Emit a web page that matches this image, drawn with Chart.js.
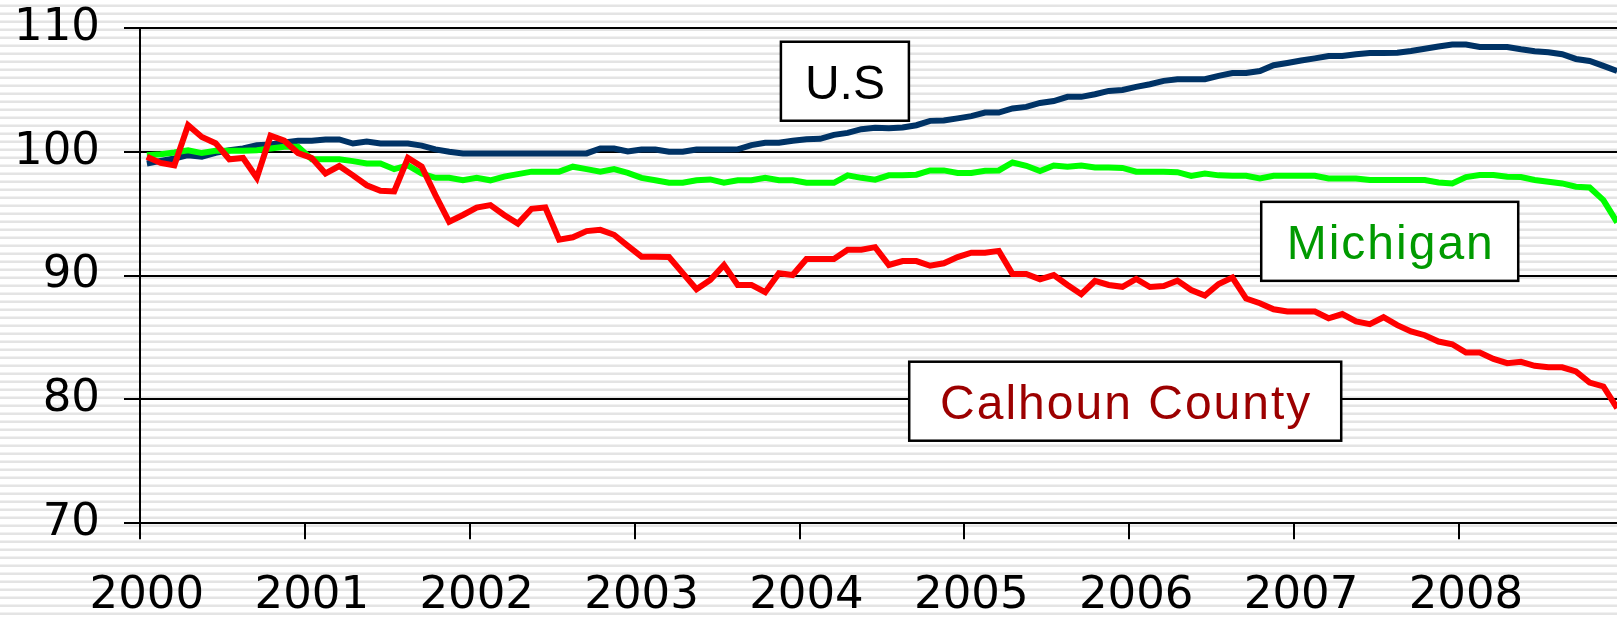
<!DOCTYPE html>
<html>
<head>
<meta charset="utf-8">
<script src="https://cdn.jsdelivr.net/npm/chart.js@4.4.1/dist/chart.umd.min.js"></script>
<style>
  html, body {
    margin: 0;
    padding: 0;
    overflow: hidden;
    width: 1617px;
    height: 618px;
    /* striped slide background */
    background: repeating-linear-gradient(to bottom,
      #ffffff 0px, #ffffff 4px,
      #f1f1f1 4px, #f1f1f1 5px,
      #e4e4e4 5px, #e4e4e4 7px,
      #ffffff 7px, #ffffff 8px);
  }
  #wrap { position: absolute; left: 0; top: 0; width: 1640px; height: 618px; }
</style>
</head>
<body>
<div id="wrap"><canvas id="indexChart" width="1640" height="618"></canvas></div>
<script>
/* ═══════════════════════════════════════════
   Employment index, Jan 2000 = 100 (monthly)
   ═══════════════════════════════════════════ */

const years = [2000, 2001, 2002, 2003, 2004, 2005, 2006, 2007, 2008];
const months = years.flatMap(y => Array.from({length: 12}, (_, m) => y + '-' + (m + 1)));

const yTicks = [70, 80, 90, 100, 110];

const usIndex = [
  99.06, 99.27, 99.46, 99.73, 99.6, 99.92, 100.13, 100.27, 100.54, 100.6, 100.75, 100.89,
  100.89, 101.0, 101.0, 100.67, 100.83, 100.67, 100.67, 100.67, 100.5, 100.2, 100.0, 99.87,
  99.87, 99.87, 99.87, 99.87, 99.87, 99.87, 99.87, 99.87, 99.87, 100.27, 100.27, 100.03,
  100.19, 100.19, 100.0, 100.0, 100.19, 100.19, 100.19, 100.2, 100.54, 100.73, 100.73, 100.9,
  101.02, 101.05, 101.37, 101.53, 101.83, 101.95, 101.9, 101.96, 102.15, 102.5, 102.53, 102.7,
  102.88, 103.17, 103.17, 103.5, 103.63, 103.95, 104.1, 104.44, 104.44, 104.65, 104.92, 105.0,
  105.24, 105.46, 105.73, 105.86, 105.86, 105.86, 106.13, 106.37, 106.37, 106.53, 106.99, 107.18,
  107.37, 107.55, 107.74, 107.74, 107.88, 107.98, 107.98, 108.0, 108.15, 108.33, 108.5, 108.66,
  108.66, 108.47, 108.47, 108.47, 108.28, 108.12, 108.04, 107.88, 107.5, 107.34, 106.94, 106.53
];

const michiganIndex = [
  99.73, 99.8, 99.95, 100.13, 99.9, 100.08, 100.08, 100.08, 100.13, 100.27, 100.4, 100.4,
  99.4, 99.4, 99.4, 99.25, 99.06, 99.05, 98.6, 98.9, 98.25, 97.9, 97.9, 97.7,
  97.9, 97.7, 98.0, 98.2, 98.4, 98.4, 98.4, 98.8, 98.6, 98.4, 98.6, 98.3,
  97.9, 97.7, 97.5, 97.5, 97.7, 97.77, 97.5, 97.7, 97.7, 97.9, 97.7, 97.7,
  97.5, 97.5, 97.5, 98.1, 97.9, 97.75, 98.1, 98.1, 98.15, 98.5, 98.5, 98.3,
  98.3, 98.47, 98.5, 99.14, 98.87, 98.44, 98.9, 98.8, 98.9, 98.74, 98.74, 98.7,
  98.4, 98.4, 98.4, 98.36, 98.06, 98.25, 98.1, 98.06, 98.06, 97.85, 98.06, 98.06,
  98.06, 98.06, 97.85, 97.85, 97.85, 97.72, 97.72, 97.72, 97.72, 97.72, 97.53, 97.45,
  97.96, 98.12, 98.12, 97.98, 97.96, 97.72, 97.58, 97.45, 97.18, 97.12, 96.1, 94.3
];

const calhounIndex = [
  99.6, 99.1, 98.9, 102.15, 101.2, 100.7, 99.4, 99.5, 97.9, 101.3, 100.9, 99.9,
  99.5, 98.25, 98.85, 98.1, 97.3, 96.85, 96.8, 99.5, 98.8, 96.5, 94.35, 94.9,
  95.5, 95.7, 94.9, 94.2, 95.4, 95.5, 92.9, 93.1, 93.6, 93.7, 93.3, 92.4,
  91.53, 91.53, 91.5, 90.2, 88.9, 89.65, 90.86, 89.25, 89.25, 88.66, 90.2, 90.05,
  91.35, 91.35, 91.35, 92.1, 92.1, 92.3, 90.86, 91.18, 91.18, 90.8, 91.0, 91.5,
  91.85, 91.85, 92.0, 90.14, 90.14, 89.7, 90.05, 89.25, 88.5, 89.57, 89.25, 89.1,
  89.73, 89.08, 89.17, 89.6, 88.84, 88.39, 89.33, 89.84, 88.15, 87.77, 87.28, 87.1,
  87.1, 87.1, 86.56, 86.9, 86.3, 86.08, 86.64, 86.0, 85.5, 85.19, 84.68, 84.46,
  83.79, 83.79, 83.28, 82.93, 83.04, 82.72, 82.6, 82.6, 82.26, 81.37, 81.05, 79.3
];

// Boxed series labels, anchored in data units (month index, index value)
const seriesLabels = [
  { text: 'U.S', color: '#000000', at: [50.8, 105.7], w: 128, h: 79, spacing: 0 },
  { text: 'Michigan', color: '#009a00', at: [90.45, 92.77], w: 257, h: 79, spacing: 2 },
  { text: 'Calhoun County', color: '#9c0000', at: [71.2, 79.86], w: 432, h: 79, spacing: 2 }
];

const labelBoxes = {
  id: 'labelBoxes',
  afterDatasetsDraw(chart) {
    const ctx = chart.ctx;
    const xs = chart.scales.x, ys = chart.scales.y;
    seriesLabels.forEach(l => {
      const cx = xs.getPixelForValue(l.at[0]);
      const cy = ys.getPixelForValue(l.at[1]);
      ctx.save();
      ctx.fillStyle = '#ffffff';
      ctx.fillRect(cx - l.w / 2, cy - l.h / 2, l.w, l.h);
      ctx.lineWidth = 2.5;
      ctx.strokeStyle = '#000000';
      ctx.strokeRect(cx - l.w / 2, cy - l.h / 2, l.w, l.h);
      ctx.font = '48px "Liberation Sans", Arial, sans-serif';
      ctx.letterSpacing = l.spacing + 'px';
      ctx.fillStyle = l.color;
      ctx.textAlign = 'center';
      ctx.textBaseline = 'alphabetic';
      ctx.fillText(l.text, cx + l.spacing / 2, cy + 18);
      ctx.restore();
    });
  }
};

const tickFont = { family: '"DejaVu Sans", Verdana, sans-serif', size: 45 };

new Chart(document.getElementById('indexChart'), {
  type: 'line',
  data: {
    labels: months,
    datasets: [
      { label: 'Calhoun County', data: calhounIndex, borderColor: '#ff0000', borderWidth: 6, pointRadius: 0, tension: 0 },
      { label: 'Michigan', data: michiganIndex, borderColor: '#00ff00', borderWidth: 6, pointRadius: 0, tension: 0 },
      { label: 'U.S', data: usIndex, borderColor: '#003366', borderWidth: 6, pointRadius: 0, tension: 0 }
    ]
  },
  options: {
    responsive: false,
    animation: false,
    events: [],
    layout: { padding: { top: 28, right: 16, left: 0, bottom: 0 } },
    plugins: { legend: { display: false }, tooltip: { enabled: false } },
    scales: {
      x: {
        type: 'category',
        offset: true,
        afterFit: s => { s.height = 94.7; s.paddingLeft = 0; s.paddingRight = 0; },
        border: { display: true, color: '#000', width: 2 },
        grid: {
          offset: true,
          drawOnChartArea: false,
          drawTicks: true,
          tickLength: 16,
          lineWidth: 2,
          color: c => (c.index % 12 === 0 ? '#000' : 'rgba(0,0,0,0)')
        },
        ticks: {
          autoSkip: false,
          maxRotation: 0,
          minRotation: 0,
          padding: 30,
          color: '#000',
          font: tickFont,
          callback: (v, i) => (i % 12 === 0 ? months[i].split('-')[0] : '')
        }
      },
      y: {
        min: 70,
        max: 110,
        afterFit: s => { s.width = 140; s.paddingTop = 0; s.paddingBottom = 0; },
        afterBuildTicks: s => { s.ticks = yTicks.map(v => ({ value: v })); },
        border: { display: true, color: '#000', width: 2 },
        grid: { color: '#000', lineWidth: 2, tickLength: 16 },
        ticks: { padding: 24, color: '#000', font: tickFont }
      }
    }
  },
  plugins: [labelBoxes]
});
</script>
</body>
</html>
